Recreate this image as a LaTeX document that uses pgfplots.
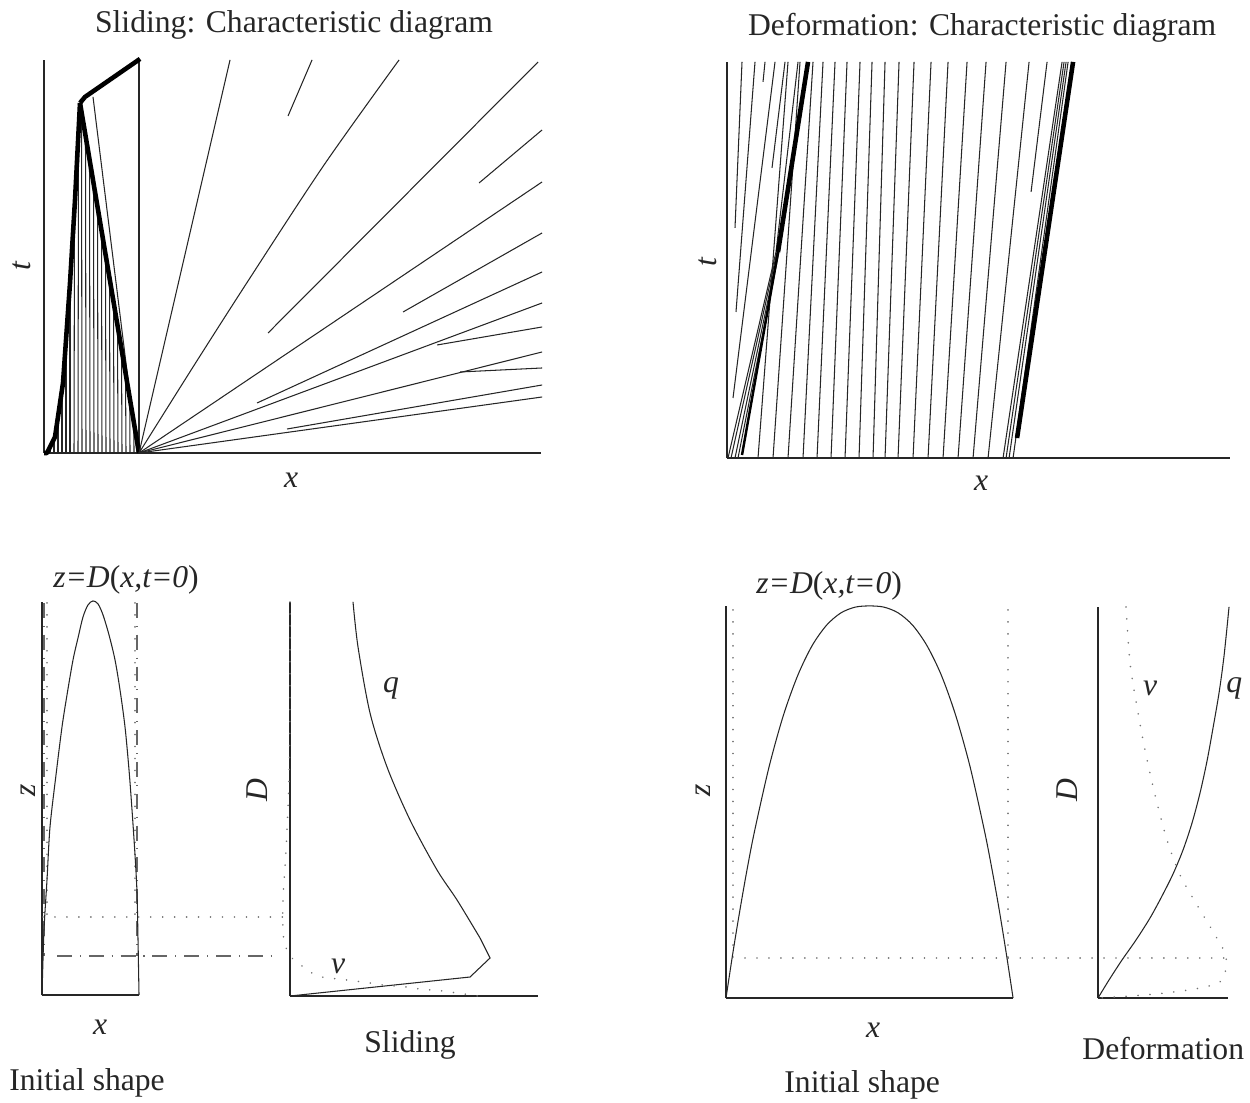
\documentclass[border=0pt]{standalone}
\usepackage{pgfplots}
\pgfplotsset{compat=1.18}
\usepackage{fontspec}
\setmainfont{Liberation Serif}
\newcommand\lab{\fontsize{18}{21}\selectfont}
\pgfplotsset{
 panel/.style={x=0.02cm,y=0.02cm,xmin=0,ymin=0,enlargelimits=false,clip=false,
   axis x line=bottom,axis y line=left,axis line style={-,line width=0.6pt,black!85},
   xtick=\empty,ytick=\empty,anchor=south west},
 ln/.style={black!85,line width=0.6pt,no markers},
 md/.style={black,line width=1.4pt,no markers},
 tk/.style={black,line width=2.6pt,no markers,line join=round},
 dt/.style={black!55,line width=1pt,dash pattern=on 0.01pt off 6.8pt,line cap=round,no markers},
 dd/.style={black!60,line width=1.3pt,dash pattern=on 8.5pt off 4.5pt on 0.6pt off 4.5pt,no markers},
}
\begin{document}
\begin{tikzpicture}
\path[use as bounding box] (0,0) rectangle (25cm,-22.06cm);
% ---------- Panel 1: Sliding characteristic diagram
\begin{axis}[panel,at={(0.88cm,-9.06cm)},xmax=497,ymax=393]
\addplot[ln] coordinates {(95,0) (95,392)};
\addplot[ln] coordinates {(6,0) (6,6)};
\addplot[ln] coordinates {(10,0) (10,14)};
\addplot[ln] coordinates {(14,0) (14,36)};
\addplot[ln] coordinates {(18,0) (18,63)};
\addplot[ln] coordinates {(22,0) (22,113)};
\addplot[ln] coordinates {(26,0) (26,170)};
\addplot[ln] coordinates {(30,0) (30.5,236)};
\addplot[ln] coordinates {(34,0) (34.5,311)};
\addplot[ln] coordinates {(38,0) (37.5,338)};
\addplot[ln] coordinates {(42,0) (41.5,314)};
\addplot[ln] coordinates {(46,0) (45.5,291)};
\addplot[ln] coordinates {(50,0) (49.5,267)};
\addplot[ln] coordinates {(54,0) (53.5,243)};
\addplot[ln] coordinates {(58,0) (57.5,219)};
\addplot[ln] coordinates {(62,0) (61.5,196)};
\addplot[ln] coordinates {(66,0) (65.5,172)};
\addplot[ln] coordinates {(70,0) (69.5,148)};
\addplot[ln] coordinates {(74,0) (73.5,125)};
\addplot[ln] coordinates {(78,0) (77.5,101)};
\addplot[ln] coordinates {(82,0) (81.5,77)};
\addplot[ln] coordinates {(86,0) (85.7,53)};
\addplot[ln] coordinates {(90,0) (89.8,30)};
\addplot[ln] coordinates {(93,1) (49,356)};
\addplot[tk] coordinates {(0,0) (3,0) (6,6) (11,16) (19,70) (26,170) (31,253) (36,350)};
\addplot[tk] coordinates {(36,350) (95,0)};
\addplot[tk] coordinates {(36,350) (41,356) (96,394)};
\addplot[ln] coordinates {(95,0) (186,393)};
\addplot[ln] coordinates {(244,337) (268,393)};
\addplot[ln,smooth] coordinates {(95,0) (149,86) (204,172) (280,288) (355,393)};
\addplot[ln] coordinates {(224,120) (494,391)};
\addplot[ln] coordinates {(435,270) (498,323)};
\addplot[ln] coordinates {(95,0) (498,271)};
\addplot[ln] coordinates {(359,141) (498,220)};
\addplot[ln] coordinates {(213,50) (498,181)};
\addplot[ln] coordinates {(95,0) (498,150)};
\addplot[ln] coordinates {(393,108) (498,126)};
\addplot[ln] coordinates {(95,0) (498,101)};
\addplot[ln] coordinates {(416,81) (498,85)};
\addplot[ln] coordinates {(243,24) (498,68)};
\addplot[ln] coordinates {(95,0) (498,56)};
\end{axis}
% ---------- Panel 2: Deformation characteristic diagram
\begin{axis}[panel,at={(14.54cm,-9.16cm)},xmax=503,ymax=396]
\addplot[ln] coordinates {(31,0) (61,396)};
\addplot[ln] coordinates {(46,0) (73,396)};
\addplot[ln] coordinates {(61,0) (86,396)};
\addplot[ln] coordinates {(76,0) (96,396)};
\addplot[ln] coordinates {(90,0) (108,396)};
\addplot[ln] coordinates {(104,0) (120,396)};
\addplot[ln] coordinates {(118,0) (133,396)};
\addplot[ln] coordinates {(132,0) (145,396)};
\addplot[ln] coordinates {(146,0) (158,396)};
\addplot[ln] coordinates {(158,0) (172,396)};
\addplot[ln] coordinates {(171,0) (187,396)};
\addplot[ln] coordinates {(186,0) (204,396)};
\addplot[ln] coordinates {(201,0) (221,396)};
\addplot[ln] coordinates {(216,0) (240,396)};
\addplot[ln] coordinates {(231,0) (259,396)};
\addplot[ln] coordinates {(246,0) (279,396)};
\addplot[ln] coordinates {(261,0) (302,396)};
\addplot[ln] coordinates {(276,0) (335,396)};
\addplot[ln] coordinates {(279,0) (337,396)};
\addplot[ln] coordinates {(282,0) (339,396)};
\addplot[ln] coordinates {(286,0) (341,396)};
\addplot[ln] coordinates {(304,266) (320,396)};
\addplot[tk] coordinates {(290,20) (346,396)};
\addplot[ln] coordinates {(1,0) (49,206) (71,396)};
\addplot[ln] coordinates {(4,0) (50,206)};
\addplot[ln] coordinates {(8,0) (51,206)};
\addplot[ln] coordinates {(11,0) (52,206)};
\addplot[md] coordinates {(15,3) (51,206)};
\addplot[tk] coordinates {(51,206) (81,396)};
\addplot[ln] coordinates {(6,60) (48,396)};
\addplot[ln] coordinates {(9,146) (28,396)};
\addplot[ln] coordinates {(8,230) (15,396)};
\addplot[ln] coordinates {(36,376) (38,396)};
\addplot[ln] coordinates {(45,290) (58,396)};
\end{axis}
% ---------- Panel 3: initial shape (sliding)
\begin{axis}[panel,at={(0.84cm,-19.9cm)},xmax=97,ymax=393]
\addplot[dt] coordinates {(5,392) (5,78)};
\addplot[dt] coordinates {(93,392) (93,78)};
\addplot[dd] coordinates {(2,392) (2,39)};
\addplot[dd] coordinates {(95,392) (95,39)};
\addplot[dt] coordinates {(1,78) (241,78)};
\addplot[dd] coordinates {(15,39) (235,39)};
\addplot[ln,smooth] coordinates {(0,0) (2,65) (5,115) (8,168) (14,220) (20,268) (25,300) (31,335) (36,357) (41,378) (46,390) (51,394) (56,391) (61,380) (67,360) (73,335) (78,305) (83,268) (87,225) (90,185) (93,140) (95,102) (96,55) (97,0)};
\end{axis}
% ---------- Panel 4: sliding profile
\begin{axis}[panel,at={(5.8cm,-19.92cm)},xmax=248,ymax=394]
\addplot[ln] coordinates {(0,0) (180,19) (200,38) (190,58)};
\addplot[ln,smooth] coordinates {(190,58) (167,96) (147,126) (120,176) (97,229) (80,283) (68,349) (63,394)};
\addplot[dt,smooth] coordinates {(0,394) (0,296) (-1,216) (-4,146) (-7,96) (-7,66) (-5,51) (2,38) (12,30) (22,23) (32,19) (57,16) (80,13) (93,11) (117,9) (130,7) (153,5) (167,3) (188,0)};
\end{axis}
% ---------- Panel 5: initial shape (deformation)
\begin{axis}[panel,at={(14.52cm,-19.96cm)},xmax=287,ymax=392]
\addplot[dt] coordinates {(7,388) (7,40)};
\addplot[dt] coordinates {(282,388) (282,40)};
\addplot[dt] coordinates {(19,40) (502,40)};
\addplot[ln,smooth] coordinates {(0,0) (7.2,47.2) (14.4,90.8) (21.5,130.9) (28.7,167.6) (43.1,231.3) (57.4,282.7) (71.8,322.7) (86.1,352.3) (100.5,372.7) (114.8,385) (129.2,390.8) (143.5,392) (157.9,390.8) (172.2,385) (186.6,372.7) (200.9,352.3) (215.3,322.7) (229.6,282.7) (244,231.3) (258.3,167.6) (265.5,130.9) (272.7,90.8) (279.8,47.2) (287,0)};
\end{axis}
% ---------- Panel 6: deformation profile
\begin{axis}[panel,at={(21.96cm,-19.96cm)},xmax=130,ymax=391]
\addplot[ln,smooth] coordinates {(0,0) (11,18) (24,38) (38,58) (52,80) (64,102) (75,124) (85,148) (94,175) (102,205) (109,237) (115,270) (121,305) (126,342) (131,391)};
\addplot[dt,smooth] coordinates {(28,391) (32,335) (39,291) (47,248) (57,203) (69,158) (82,123) (99,93) (117,63) (128,41) (124,18) (102,10) (67,5) (32,2) (0,0)};
\end{axis}
% ---------- texts
\begin{scope}[x=0.02cm,y=-0.02cm,every node/.style={font=\lab,text=black!85}]
\node at (294,25) {Sliding: Characteristic diagram};
\node at (982,28) {Deformation: Characteristic diagram};
\node[rotate=90] at (22,266) {\textit{t}};
\node at (291,480) {\textit{x}};
\node[rotate=90] at (708,262) {\textit{t}};
\node at (981,483) {\textit{x}};
\node at (126,580) {\textit{z=D}(\textit{x,t=0})};
\node[rotate=90] at (28,790) {\textit{z}};
\node at (100,1027) {\textit{x}};
\node at (87,1083) {Initial shape};
\node[rotate=90] at (257,790) {\textit{D}};
\node at (391,688) {\textit{q}};
\node at (338,966) {\textit{v}};
\node at (410,1045) {Sliding};
\node at (829,586) {\textit{z=D}(\textit{x,t=0})};
\node[rotate=90] at (703,790) {\textit{z}};
\node at (873,1030) {\textit{x}};
\node at (862,1085) {Initial shape};
\node[rotate=90] at (1067,790) {\textit{D}};
\node at (1150,688) {\textit{v}};
\node at (1234,688) {\textit{q}};
\node at (1163,1048) {Deformation};
\end{scope}
\end{tikzpicture}
\end{document}
